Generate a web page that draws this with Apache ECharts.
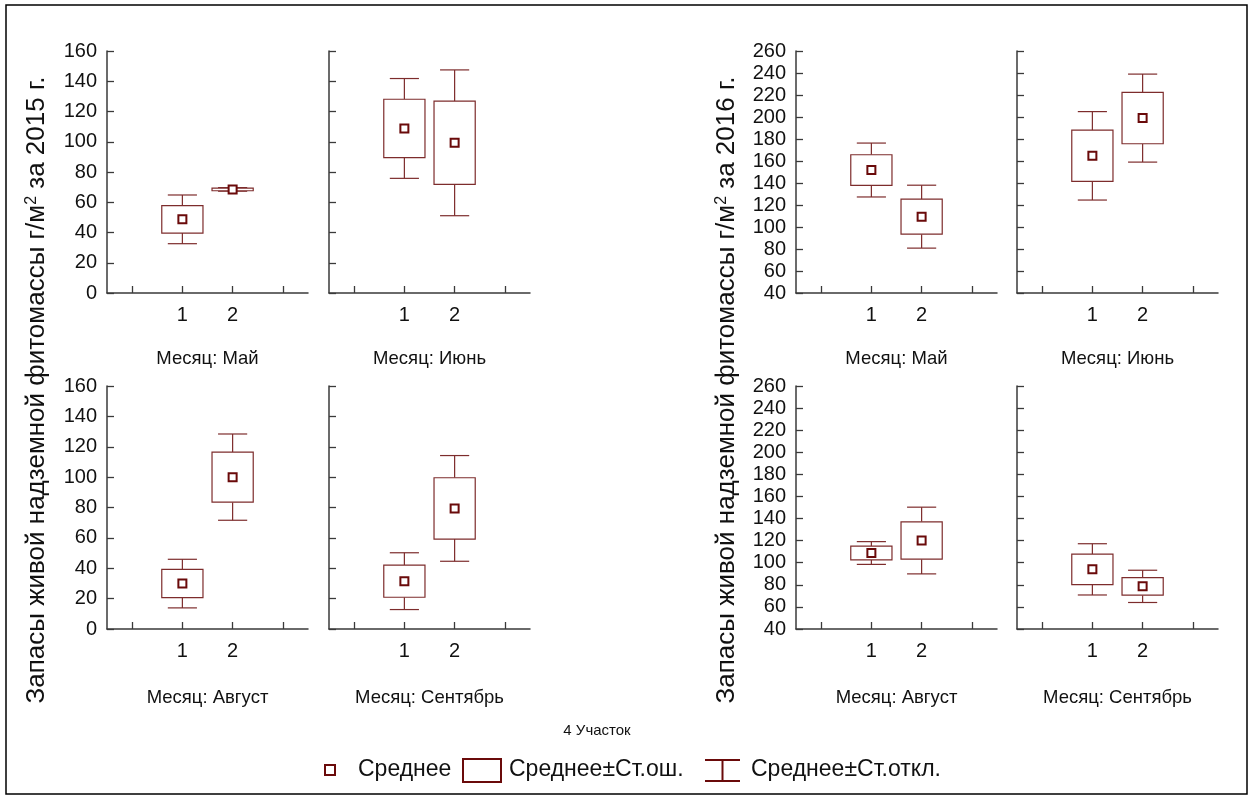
<!DOCTYPE html>
<html>
<head>
<meta charset="utf-8">
<script src="https://cdn.jsdelivr.net/npm/echarts@6/dist/echarts.min.js"></script>
<style>
  html, body { margin: 0; padding: 0; background: #fff; }
  #chart { width: 1253px; height: 800px; }
</style>
</head>
<body>
<div id="chart"></div>
<script>
// Month panels and x categories (sites 1 and 2, padded with empty slots on both sides)
const months = ['Май', 'Июнь', 'Август', 'Сентябрь'];
const xCategories = ['', '1', '2', ''];

// 2015: mean, standard error, standard deviation per month for sites 1 and 2
const mean2015 = [[48.7, 68.5], [108.8, 99.3], [29.9, 100.0], [31.5, 79.4]];
const se2015   = [[9.1, 0.9],   [19.3, 27.5], [9.3, 16.5],   [10.6, 20.2]];
const sd2015   = [[16.1, 1.2],  [33.0, 48.2], [16.0, 28.4],  [18.7, 34.8]];

// 2016: mean, standard error, standard deviation per month for sites 1 and 2
const mean2016 = [[151.8, 109.4], [164.7, 199.0], [108.8, 120.1], [94.0, 78.6]];
const se2016   = [[13.9, 15.9],   [23.3, 23.3],   [6.3, 16.9],    [13.8, 8.0]];
const sd2016   = [[24.5, 28.6],   [40.2, 40.0],   [10.3, 30.2],   [23.2, 14.6]];

// y-axis scales
const yScale2015 = { min: 0, max: 160, interval: 20 };
const yScale2016 = { min: 40, max: 260, interval: 20 };

const FONT = 'Arial, "Liberation Sans", sans-serif';
const BOX_COLOR = '#7d2c2c';
const MEAN_COLOR = '#6a0a0a';
const AXIS_COLOR = '#3a3a3a';

const chart = echarts.init(document.getElementById('chart'), null, { renderer: 'canvas' });

// panel layout: [left, top, width, height]
const colLeft = [107, 329, 796, 1017];
const rowTop = [51, 386];
const panelW = 201;
const panelH = [242, 243];
const nameGaps = [56, 59];

function renderBox(params, api) {
  const xi = api.value(0);
  const m = api.value(1), se = api.value(2), sd = api.value(3);
  const band = api.size([1, 0])[0];
  const cx = api.coord([xi, m])[0];
  const yMean = api.coord([xi, m])[1];
  const ySdTop = api.coord([xi, m + sd])[1];
  const ySdBot = api.coord([xi, m - sd])[1];
  const ySeTop = api.coord([xi, m + se])[1];
  const ySeBot = api.coord([xi, m - se])[1];
  const bw = band * 0.82, cw = band * 0.58;
  const lineStyle = { stroke: BOX_COLOR, lineWidth: 1.2, fill: null };
  return {
    type: 'group',
    children: [
      { type: 'line', shape: { x1: cx, y1: ySdTop, x2: cx, y2: ySeTop }, style: lineStyle },
      { type: 'line', shape: { x1: cx, y1: ySeBot, x2: cx, y2: ySdBot }, style: lineStyle },
      { type: 'line', shape: { x1: cx - cw / 2, y1: ySdTop, x2: cx + cw / 2, y2: ySdTop }, style: lineStyle },
      { type: 'line', shape: { x1: cx - cw / 2, y1: ySdBot, x2: cx + cw / 2, y2: ySdBot }, style: lineStyle },
      { type: 'rect', shape: { x: cx - bw / 2, y: ySeTop, width: bw, height: ySeBot - ySeTop },
        style: { stroke: BOX_COLOR, lineWidth: 1.2, fill: '#fff' } },
      { type: 'rect', shape: { x: cx - 4, y: yMean - 4, width: 8, height: 8 },
        style: { stroke: MEAN_COLOR, lineWidth: 2, fill: '#fff' } }
    ]
  };
}

const grids = [], xAxes = [], yAxes = [], series = [];
const years = [
  { mean: mean2015, se: se2015, sd: sd2015, scale: yScale2015, cols: [0, 1] },
  { mean: mean2016, se: se2016, sd: sd2016, scale: yScale2016, cols: [2, 3] }
];

years.forEach((yr) => {
  months.forEach((month, mi) => {
    const row = mi < 2 ? 0 : 1;
    const colIdx = yr.cols[mi % 2];
    const firstInRow = (mi % 2) === 0;
    const gi = grids.length;
    grids.push({ left: colLeft[colIdx], top: rowTop[row], width: panelW, height: panelH[row] });
    xAxes.push({
      type: 'category', gridIndex: gi, data: xCategories,
      boundaryGap: true,
      name: 'Месяц: ' + month, nameLocation: 'middle', nameGap: nameGaps[row],
      nameTextStyle: { fontFamily: FONT, fontSize: 18.5, color: '#111' },
      axisLine: { show: true, onZero: false, lineStyle: { color: AXIS_COLOR, width: 1.5 } },
      axisTick: { show: true, inside: true, length: 7, alignWithLabel: true, interval: 0,
                  lineStyle: { color: AXIS_COLOR, width: 1.3 } },
      axisLabel: { interval: 0, margin: 12, fontFamily: FONT, fontSize: 20, color: '#111' },
      splitLine: { show: false }
    });
    yAxes.push({
      type: 'value', gridIndex: gi,
      min: yr.scale.min, max: yr.scale.max, interval: yr.scale.interval,
      axisLine: { show: true, lineStyle: { color: AXIS_COLOR, width: 1.5 } },
      axisTick: { show: true, inside: true, length: 7, lineStyle: { color: AXIS_COLOR, width: 1.3 } },
      axisLabel: { show: firstInRow, margin: 10, fontFamily: FONT, fontSize: 20, color: '#111' },
      splitLine: { show: false }
    });
    const data = [1, 2].map((site, si) => [site, yr.mean[mi][si], yr.se[mi][si], yr.sd[mi][si]]);
    series.push({
      type: 'custom', xAxisIndex: gi, yAxisIndex: gi,
      renderItem: renderBox, data: data,
      encode: { x: 0, y: 1 }, clip: false, silent: true
    });
  });
});

function yTitle(x, year) {
  return {
    type: 'text', x: x, y: 390, rotation: Math.PI / 2, silent: true,
    style: {
      text: '{a|Запасы живой надземной фитомассы г/м}{s|2}{a| за ' + year + ' г.}',
      textAlign: 'center', textVerticalAlign: 'middle',
      rich: {
        a: { fontFamily: FONT, fontSize: 26, fill: '#111', verticalAlign: 'bottom' },
        s: { fontFamily: FONT, fontSize: 16, fill: '#111', verticalAlign: 'top' }
      }
    }
  };
}

const legendY = 770;
const LEGEND_FONT = '23px ' + FONT;
const graphic = [
  // outer frame
  { type: 'rect', shape: { x: 6, y: 5, width: 1241, height: 789 },
    style: { stroke: '#000', lineWidth: 1.5, fill: null }, silent: true },
  yTitle(37, '2015'),
  yTitle(727, '2016'),
  { type: 'text', x: 597, y: 731, silent: true,
    style: { text: '4 Участок', font: '15px "Liberation Sans Narrow", "Arial Narrow", ' + FONT,
             fill: '#111', textAlign: 'center', textVerticalAlign: 'middle' } },
  // legend: mean marker
  { type: 'rect', shape: { x: 325, y: legendY - 5, width: 10, height: 10 },
    style: { stroke: MEAN_COLOR, lineWidth: 2, fill: '#fff' }, silent: true },
  { type: 'text', x: 358, y: legendY, silent: true,
    style: { text: 'Среднее', font: LEGEND_FONT, fill: '#111', textVerticalAlign: 'middle' } },
  // legend: standard-error box
  { type: 'rect', shape: { x: 463, y: legendY - 11, width: 38, height: 23 },
    style: { stroke: MEAN_COLOR, lineWidth: 2, fill: '#fff' }, silent: true },
  { type: 'text', x: 509, y: legendY, silent: true,
    style: { text: 'Среднее±Ст.ош.', font: LEGEND_FONT, fill: '#111', textVerticalAlign: 'middle' } },
  // legend: standard-deviation whisker
  { type: 'polyline', shape: { points: [[705, legendY - 10], [740, legendY - 10]] },
    style: { stroke: MEAN_COLOR, lineWidth: 2 }, silent: true },
  { type: 'polyline', shape: { points: [[705, legendY + 11], [740, legendY + 11]] },
    style: { stroke: MEAN_COLOR, lineWidth: 2 }, silent: true },
  { type: 'polyline', shape: { points: [[722.5, legendY - 10], [722.5, legendY + 11]] },
    style: { stroke: MEAN_COLOR, lineWidth: 2 }, silent: true },
  { type: 'text', x: 751, y: legendY, silent: true,
    style: { text: 'Среднее±Ст.откл.', font: LEGEND_FONT, fill: '#111', textVerticalAlign: 'middle' } }
];

chart.setOption({
  backgroundColor: '#fff',
  animation: false,
  grid: grids,
  xAxis: xAxes,
  yAxis: yAxes,
  series: series,
  graphic: graphic
});
</script>
</body>
</html>
